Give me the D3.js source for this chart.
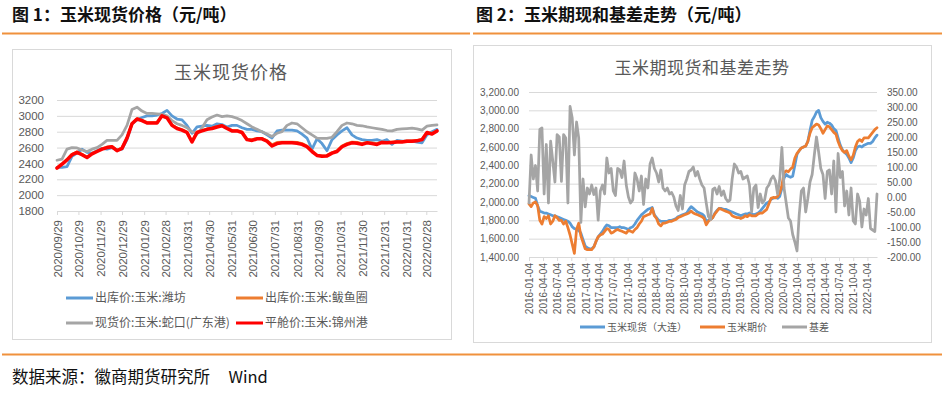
<!DOCTYPE html>
<html>
<head>
<meta charset="utf-8">
<script src="https://cdn.jsdelivr.net/npm/d3@7"></script>
<style>
  body { margin: 0; background: #fff; }
  svg { display: block; font-family: "Noto Sans CJK SC", "Noto Sans", sans-serif; }
</style>
</head>
<body>
<svg id="chart" width="948" height="393"></svg>
<script>
// ---- 图1 玉米现货价格：周度，从 2020/09/29 起 ----
const priceStart = '2020/09/29';
const weifang = [2350, 2350, 2360, 2490, 2530, 2580, 2540, 2530, 2560, 2590, 2580, 2600, 2570, 2580, 2700, 2900, 2950, 2980, 3000, 3000,
  3010, 3030, 3070, 3000, 2960, 2950, 2880, 2780, 2860, 2870, 2880, 2870, 2900, 2890, 2860, 2880, 2880, 2850, 2830, 2830,
  2810, 2800, 2760, 2720, 2810, 2820, 2820, 2820, 2810, 2770, 2720, 2580, 2710, 2650, 2560, 2700, 2760, 2810, 2850, 2760,
  2720, 2700, 2690, 2690, 2700, 2680, 2700, 2640, 2690, 2680, 2680, 2680, 2670, 2660, 2760, 2800, 2830];
const bayuquan = [2345, 2395, 2450, 2515, 2545, 2515, 2480, 2525, 2555, 2585, 2605, 2615, 2565, 2595, 2725, 2905, 2965, 2945, 2915, 2915,
  2915, 3005, 2980, 2885, 2845, 2825, 2795, 2675, 2795, 2815, 2835, 2845, 2865, 2880, 2845, 2815, 2815, 2795, 2705, 2700,
  2715, 2715, 2690, 2635, 2665, 2670, 2670, 2670, 2665, 2650, 2620, 2560, 2505, 2495, 2500, 2535, 2560, 2620, 2650, 2670,
  2665, 2650, 2665, 2660, 2650, 2670, 2665, 2670, 2675, 2675, 2685, 2685, 2690, 2705, 2790, 2780, 2810];
const shekou = [2440, 2455, 2580, 2600, 2595, 2570, 2550, 2580, 2600, 2640, 2690, 2690, 2690, 2760, 2880, 3080, 3110, 3060, 3030, 3030,
  3025, 3020, 3000, 2940, 2900, 2880, 2850, 2800, 2770, 2850, 2950, 2985, 3010, 2990, 3000, 2990, 2970, 2940, 2900, 2860,
  2830, 2800, 2770, 2740, 2780, 2800, 2880, 2910, 2900, 2850, 2800, 2760, 2720, 2715, 2715, 2730, 2800, 2880, 2910, 2900,
  2880, 2875, 2860, 2850, 2840, 2830, 2815, 2810, 2830, 2835, 2840, 2845, 2835, 2820, 2870, 2880, 2885];
const jinzhou = [2340, 2390, 2445, 2510, 2540, 2510, 2475, 2520, 2550, 2580, 2600, 2610, 2560, 2590, 2720, 2900, 2960, 2940, 2910, 2910,
  2910, 3000, 2975, 2880, 2840, 2820, 2790, 2670, 2790, 2810, 2830, 2840, 2860, 2875, 2840, 2810, 2810, 2790, 2700, 2690,
  2710, 2710, 2680, 2620, 2650, 2660, 2660, 2660, 2655, 2640, 2610, 2550, 2500, 2490, 2495, 2530, 2550, 2610, 2640, 2660,
  2655, 2640, 2660, 2650, 2640, 2665, 2660, 2665, 2670, 2670, 2680, 2680, 2685, 2700, 2790, 2770, 2810];
const priceTicks = ['2020/09/29', '2020/10/29', '2020/11/29', '2020/12/29', '2021/01/29', '2021/02/28', '2021/03/31',
  '2021/04/30', '2021/05/31', '2021/06/30', '2021/07/31', '2021/08/31', '2021/09/30', '2021/10/31', '2021/11/30',
  '2021/12/31', '2022/01/31', '2022/02/28'];
const priceYTicks = [1800, 2000, 2200, 2400, 2600, 2800, 3000, 3200];
const priceSeries = [
  { name: '出库价:玉米:潍坊', values: weifang, color: '#5b9bd5', width: 2.75 },
  { name: '出库价:玉米:鲅鱼圈', values: bayuquan, color: '#ed7d31', width: 2.75 },
  { name: '现货价:玉米:蛇口(广东港)', values: shekou, color: '#a5a5a5', width: 2.75 },
  { name: '平舱价:玉米:锦州港', values: jinzhou, color: '#ff0000', width: 3.5 }
];

// ---- 图2 玉米期现和基差：双周，从 2016-01-04 起 ----
const basisStart = '2016-01-04';
const spotDalian = [2070, 2060, 2050, 2040, 1960, 1900, 1890, 1880, 1880, 1870, 1860, 1850, 1850, 1840, 1830, 1820, 1810, 1800, 1790, 1770,
  1730, 1710, 1700, 1690, 1660, 1590, 1520, 1500, 1490, 1490, 1510, 1570, 1620, 1650, 1680, 1720, 1750, 1740, 1720, 1720,
  1720, 1720, 1730, 1720, 1720, 1710, 1700, 1720, 1730, 1760, 1800, 1830,
  1860, 1880, 1900, 1920, 1930, 1940, 1860, 1830, 1800, 1790, 1790, 1790, 1790, 1800, 1800, 1810, 1820, 1840, 1850, 1860,
  1870, 1880, 1920, 1950, 1930, 1910, 1890, 1880, 1870, 1850, 1790, 1800, 1810, 1830, 1880, 1910, 1930, 1930, 1920, 1920,
  1910, 1900, 1890, 1880, 1870, 1860, 1850, 1860, 1870, 1870, 1880, 1870,
  1860, 1870, 1880, 1900, 1930, 1960, 1990, 2000, 2030, 2040, 2050, 2040, 2060, 2150, 2260, 2300, 2280, 2270, 2280, 2400,
  2520, 2560, 2590, 2600, 2610, 2660, 2780, 2890, 2930, 2980, 3000, 2920, 2880, 2850, 2870, 2860, 2840, 2800, 2780, 2700,
  2620, 2570, 2540, 2520, 2480, 2430, 2480, 2560, 2600, 2610, 2600, 2620, 2630, 2640, 2640, 2660, 2700, 2730];
const futures = [1980, 1950, 1990, 2000, 1960, 1800, 1760, 1840, 1820, 1850, 1760, 1790, 1850, 1830, 1800, 1800, 1760, 1790, 1720, 1640,
  1540, 1440, 1700, 1770, 1630, 1560, 1490, 1480, 1480, 1480, 1510, 1570, 1620, 1640, 1650, 1680, 1710, 1700, 1660, 1670,
  1690, 1700, 1690, 1680, 1670, 1660, 1690, 1680, 1670, 1700, 1720, 1760,
  1790, 1840, 1850, 1860, 1870, 1930, 1850, 1820, 1760, 1740, 1770, 1770, 1780, 1790, 1790, 1800, 1810, 1830, 1840, 1850,
  1860, 1870, 1880, 1900, 1880, 1870, 1860, 1850, 1840, 1820, 1750, 1790, 1810, 1830, 1870, 1900, 1930, 1920, 1910, 1900,
  1890, 1880, 1850, 1840, 1830, 1830, 1820, 1830, 1850, 1840, 1860, 1850,
  1850, 1850, 1870, 1880, 1880, 1900, 1920, 1980, 2040, 2050, 2045, 2060, 2100, 2180, 2320, 2340, 2330, 2360, 2380, 2480,
  2530, 2560, 2590, 2600, 2610, 2660, 2750, 2810, 2830, 2850, 2840, 2800, 2750, 2790, 2830, 2820, 2790, 2760, 2740, 2660,
  2600, 2560, 2540, 2560, 2500, 2460, 2510, 2600, 2660, 2680, 2660, 2700, 2700, 2700, 2730, 2760, 2790, 2810];
const basis = [-20, 140, 60, 105, 20, 225, 230, 10, 175, -20, 186, 120, 50, 208, 200, 52, 208, 197, -20, 302,
  263, 140, 250, 197, -85, 60, -33, 30, 10, 40, 8, 30, -77, 20, 40, 10, 130, 80, 95, 20,
  5, 95, 90, 65, 120, 40, 0, -20, -10, 80, 60, 20,
  70, -25, 60, 30, 110, 130, 95, 80, 50, 90, 30, 20, 30, 10, 15, 0, -30, -45, 5, -40,
  40, 60, 85, 90, 100, 70, 85, 60, 40, 30, -20, -65, -75, 25, 30, 10, 35, 5, 20, -5,
  -15, -10, 60, 110, 100, 80, 85, 60, 65, 70, 40, -50,
  30, 40, -35, 10, -20, -10, 30, 40, 60, 70, 55, 10, 60, 165, 30, -20, -70, -80, -125, -150,
  -180, -60, 20, 30, -50, -5, 50, 75, 140, 200, 150, 95, 75, -5, 85, 90, 10, 120, -50, 145,
  65, 85, -30, 20, -60, 30, -80, -90, 10, -15, -100, -40, -60, -5, -105, -110, -115, 10];
const basisTicks = ['2016-01-04', '2016-04-04', '2016-07-04', '2016-10-04', '2017-01-04', '2017-04-04', '2017-07-04',
  '2017-10-04', '2018-01-04', '2018-04-04', '2018-07-04', '2018-10-04', '2019-01-04', '2019-04-04', '2019-07-04',
  '2019-10-04', '2020-01-04', '2020-04-04', '2020-07-04', '2020-10-04', '2021-01-04', '2021-04-04', '2021-07-04',
  '2021-10-04', '2022-01-04'];
const leftTicks = [1400, 1600, 1800, 2000, 2200, 2400, 2600, 2800, 3000, 3200];
const rightTicks = [-200, -150, -100, -50, 0, 50, 100, 150, 200, 250, 300, 350];
const basisSeries = [
  { name: '玉米现货（大连）', values: spotDalian, color: '#5b9bd5', axis: 'left' },
  { name: '玉米期价', values: futures, color: '#ed7d31', axis: 'left' },
  { name: '基差', values: basis, color: '#a5a5a5', axis: 'right' }
];

const svg = d3.select('#chart');
const textGray = '#595959';
const gridGray = '#d9d9d9';
const orange = '#f0913c';
const fmt = d3.formatLocale({ decimal: '.', thousands: ',', grouping: [3], currency: ['', ''], minus: '-' });

// 页面框架：标题、橙色分隔线、数据来源
svg.append('rect').attr('width', 948).attr('height', 393).attr('fill', '#fff');
svg.append('text').attr('x', 12).attr('y', 21).attr('font-size', 17).attr('font-weight', 'bold')
  .attr('fill', '#111').text('图 1：玉米现货价格（元/吨）');
svg.append('text').attr('x', 476).attr('y', 21).attr('font-size', 17).attr('font-weight', 'bold')
  .attr('fill', '#111').text('图 2：玉米期现和基差走势（元/吨）');
svg.append('line').attr('x1', 2).attr('x2', 470).attr('y1', 33.5).attr('y2', 33.5)
  .attr('stroke', orange).attr('stroke-width', 2);
svg.append('line').attr('x1', 473).attr('x2', 942).attr('y1', 33.5).attr('y2', 33.5)
  .attr('stroke', orange).attr('stroke-width', 2);
svg.append('line').attr('x1', 2).attr('x2', 942).attr('y1', 354.5).attr('y2', 354.5)
  .attr('stroke', orange).attr('stroke-width', 2);
svg.append('text').attr('x', 12).attr('y', 383).attr('font-size', 16.5).attr('fill', '#111')
  .attr('xml:space', 'preserve').text('数据来源：徽商期货研究所     Wind');

// ================= 图1 =================
{
  const g = svg.append('g');
  g.append('rect').attr('x', 12.5).attr('y', 49.5).attr('width', 439).attr('height', 290)
    .attr('fill', '#fff').attr('stroke', gridGray);
  g.append('text').attr('x', 231).attr('y', 79).attr('text-anchor', 'middle')
    .attr('font-size', 18).attr('fill', textGray).attr('letter-spacing', 1).text('玉米现货价格');

  const start = d3.timeParse('%Y/%m/%d')(priceStart);
  const dates = weifang.map((d, i) => d3.timeWeek.offset(start, i));
  const x = d3.scaleTime().domain(d3.extent(dates)).range([57, 437]);
  const y = d3.scaleLinear().domain([1800, 3200]).range([211, 100]);

  const yAxis = g.append('g').attr('transform', 'translate(57,0)')
    .call(d3.axisLeft(y).tickValues(priceYTicks).tickSize(-380).tickPadding(13).tickFormat(d3.format('d')));
  yAxis.select('.domain').remove();
  yAxis.selectAll('line').attr('stroke', gridGray);
  yAxis.selectAll('text').attr('fill', textGray).attr('font-size', 11.5).attr('font-family', 'Liberation Sans, sans-serif');

  const tickDates = priceTicks.map(d3.timeParse('%Y/%m/%d'));
  const xAxis = g.append('g').attr('transform', 'translate(0,211)')
    .call(d3.axisBottom(x).tickValues(tickDates).tickSize(4).tickSizeOuter(0).tickFormat((d, i) => priceTicks[i]));
  xAxis.select('.domain').attr('stroke', gridGray);
  xAxis.selectAll('line').attr('stroke', gridGray);
  xAxis.selectAll('text')
    .attr('transform', 'rotate(-90)').attr('x', -9).attr('y', 0).attr('dy', '0.35em')
    .style('text-anchor', 'end').attr('fill', textGray).attr('font-size', 11.5)
    .attr('font-family', 'Liberation Sans, sans-serif');

  const line = d3.line().x((d, i) => x(dates[i])).y(d => y(d));
  g.selectAll('.price-line').data(priceSeries).enter().append('path')
    .attr('class', 'price-line')
    .attr('d', s => line(s.values))
    .attr('fill', 'none')
    .attr('stroke', s => s.color)
    .attr('stroke-width', s => s.width)
    .attr('stroke-linejoin', 'round')
    .attr('stroke-linecap', 'round');

  const legend = g.selectAll('.legend1').data(priceSeries).enter().append('g')
    .attr('class', 'legend1')
    .attr('transform', (s, i) => `translate(${i % 2 ? 236 : 66},${i < 2 ? 298 : 323})`);
  legend.append('line').attr('x1', 0).attr('x2', 27).attr('stroke', s => s.color).attr('stroke-width', 3);
  legend.append('text').attr('x', 29).attr('dy', '0.36em').attr('font-size', 12).attr('fill', textGray)
    .text(s => s.name);
}

// ================= 图2 =================
{
  const g = svg.append('g');
  g.append('rect').attr('x', 473.5).attr('y', 45.5).attr('width', 458).attr('height', 297)
    .attr('fill', '#fff').attr('stroke', gridGray);
  g.append('text').attr('x', 702).attr('y', 74).attr('text-anchor', 'middle')
    .attr('font-size', 17).attr('fill', textGray).attr('letter-spacing', 0.5).text('玉米期现货和基差走势');

  const start = d3.timeParse('%Y-%m-%d')(basisStart);
  const dates = spotDalian.map((d, i) => d3.timeDay.offset(start, i * 14));
  const x = d3.scaleTime().domain(d3.extent(dates)).range([529, 877]);
  const yLeft = d3.scaleLinear().domain([1400, 3200]).range([257, 92]);
  const yRight = d3.scaleLinear().domain([-200, 350]).range([257, 92]);

  const leftAxis = g.append('g').attr('transform', 'translate(529,0)')
    .call(d3.axisLeft(yLeft).tickValues(leftTicks).tickSize(-348).tickPadding(10).tickFormat(fmt.format(',.2f')));
  leftAxis.select('.domain').remove();
  leftAxis.selectAll('line').attr('stroke', gridGray);
  leftAxis.selectAll('text').attr('fill', textGray).attr('font-size', 10);

  const rightAxis = g.append('g').attr('transform', 'translate(877,0)')
    .call(d3.axisRight(yRight).tickValues(rightTicks).tickSize(0).tickPadding(10).tickFormat(fmt.format('.2f')));
  rightAxis.select('.domain').remove();
  rightAxis.selectAll('text').attr('fill', textGray).attr('font-size', 10);

  const tickDates = basisTicks.map(d3.timeParse('%Y-%m-%d'));
  const xAxis = g.append('g').attr('transform', 'translate(0,257)')
    .call(d3.axisBottom(x).tickValues(tickDates).tickSize(4).tickSizeOuter(0).tickFormat((d, i) => basisTicks[i]));
  xAxis.select('.domain').attr('stroke', gridGray);
  xAxis.selectAll('line').attr('stroke', gridGray);
  xAxis.selectAll('text')
    .attr('transform', 'rotate(-90)').attr('x', -6).attr('y', 0).attr('dy', '0.35em')
    .style('text-anchor', 'end').attr('fill', textGray).attr('font-size', 10);

  g.selectAll('.basis-line').data(basisSeries).enter().append('path')
    .attr('class', 'basis-line')
    .attr('d', s => {
      const y = s.axis === 'left' ? yLeft : yRight;
      return d3.line().x((d, i) => x(dates[i])).y(d => y(d))(s.values);
    })
    .attr('fill', 'none')
    .attr('stroke', s => s.color)
    .attr('stroke-width', 2.75)
    .attr('stroke-linejoin', 'round')
    .attr('stroke-linecap', 'round');

  const legendX = [580, 700, 782];
  const legend = g.selectAll('.legend2').data(basisSeries).enter().append('g')
    .attr('class', 'legend2')
    .attr('transform', (s, i) => `translate(${legendX[i]},327)`);
  legend.append('line').attr('x1', 0).attr('x2', 25).attr('stroke', s => s.color).attr('stroke-width', 3);
  legend.append('text').attr('x', 27).attr('dy', '0.36em').attr('font-size', 10).attr('fill', textGray)
    .text(s => s.name);
}
</script>
</body>
</html>
